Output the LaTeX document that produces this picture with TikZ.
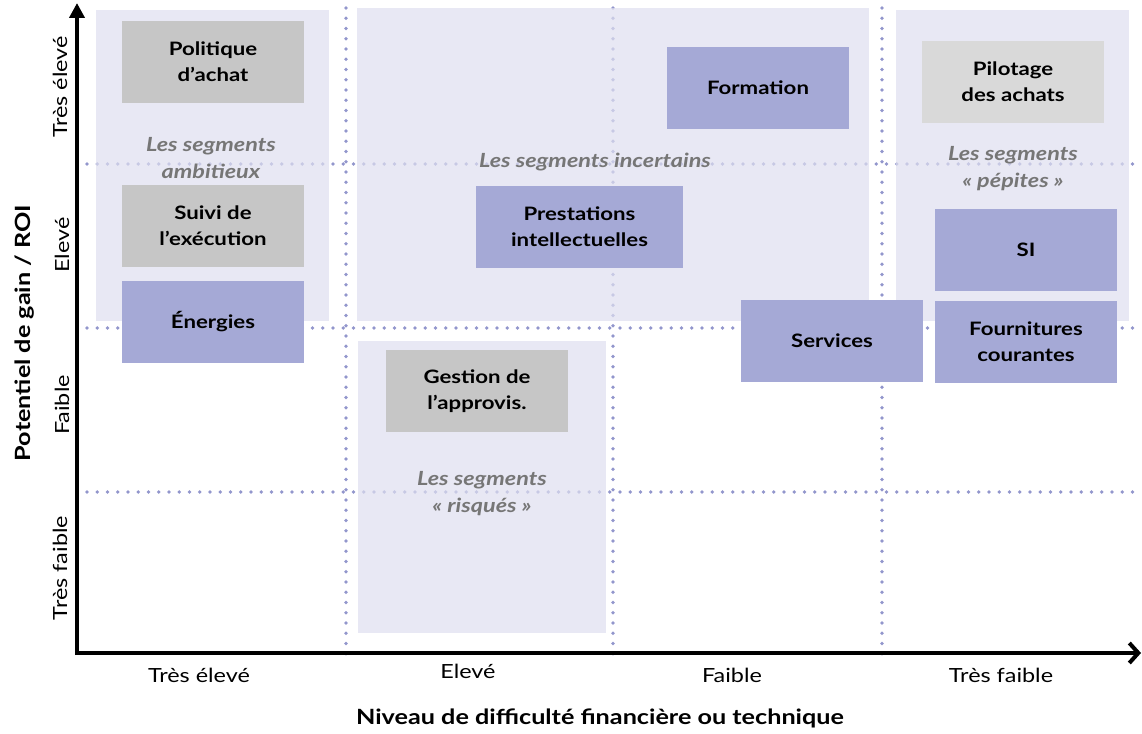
\documentclass[tikz,border=0pt]{standalone}
\usepackage{fontspec}
\setmainfont{Lato}[FakeStretch=1.2]
\usetikzlibrary{arrows.meta}
\definecolor{dotc}{HTML}{9296CC}
\definecolor{panelc}{HTML}{DEDEEF}
\definecolor{bluec}{HTML}{A5A9D6}
\definecolor{grayc}{HTML}{C6C6C6}
\definecolor{lgrayc}{HTML}{D9D9D9}
\definecolor{segc}{HTML}{767676}
\begin{document}
\begin{tikzpicture}[x=1pt,y=-1pt,
  dotline/.style={dotc, line width=3.8pt, line cap=round, dash pattern=on 0pt off 10.25pt},
  panel/.style={fill=panelc, fill opacity=0.71, draw=none},
  box/.style={draw=none, inner sep=0pt, minimum width=182pt, minimum height=82pt, align=center, font=\fontsize{18.5}{26}\selectfont\bfseries},
  bluebox/.style={box, fill=bluec},
  graybox/.style={box, fill=grayc},
  seg/.style={align=center, text=segc, inner sep=0pt, font=\fontsize{19.5}{27}\selectfont\bfseries\itshape},
  tick/.style={inner sep=0pt, font=\fontsize{19.5}{22}\selectfont},
  axtitle/.style={inner sep=0pt, font=\fontsize{21}{24}\selectfont\bfseries}]
\useasboundingbox (0,0) rectangle (1142,733);
% grid
\draw[dotline] (346,8) -- (346,658);
\draw[dotline] (613,8) -- (613,658);
\draw[dotline] (882,8) -- (882,658);
\draw[dotline] (87,164) -- (1142,164);
\draw[dotline] (87,328) -- (1142,328);
\draw[dotline] (87,492) -- (1142,492);
% panels
\fill[panel] (96,10) rectangle (329,321);
\fill[panel] (357,8) rectangle (869,321);
\fill[panel] (896,10) rectangle (1129,321);
\fill[panel] (358,341) rectangle (606,633);
% axes
\coordinate (o) at (77,655);
\coordinate (ox) at (75,653);
\coordinate (ytop) at (77,3);
\coordinate (xend) at (1141,653);
\draw[line width=4pt, -{Triangle[length=15pt,width=15pt]}] (o) -- (ytop);
\draw[line width=4pt, -{Straight Barb[length=9pt,width=20pt]}] (ox) -- (xend);
% boxes
\node[graybox] (pol) at (213,62) {Politique\\d’achat};
\node[graybox] (suivi) at (213,226) {Suivi de\\l’exécution};
\node[bluebox] (ener) at (213,322) {Énergies};
\node[bluebox] (form) at (758,88) {Formation};
\node[bluebox, minimum width=207pt] (prest) at (579.5,227) {Prestations\\intellectuelles};
\node[graybox] (gest) at (477,391) {Gestion de\\l’approvis.};
\node[box, fill=lgrayc] (pil) at (1013,82) {Pilotage\\des achats};
\node[bluebox] (si) at (1026,250) {SI};
\node[bluebox] (serv) at (832,341) {Services};
\node[bluebox] (four) at (1026,342) {Fournitures\\courantes};
% segment labels
\node[seg] (amb) at (211,158) {Les segments\\ambitieux};
\node[seg] (inc) at (595,162) {Les segments incertains};
\node[seg] (pep) at (1013,169) {Les segments\\« pépites »};
\node[seg] (ris) at (482,494) {Les segments\\« risqués »};
% ticks
\node[tick] (x1) at (199,675) {Très élevé};
\node[tick] (x2) at (468,671) {Elevé};
\node[tick] (x3) at (732,675) {Faible};
\node[tick] (x4) at (1001,675) {Très faible};
\node[tick, rotate=90] (y1) at (60,87) {Très élevé};
\node[tick, rotate=90] (y2) at (62,245) {Elevé};
\node[tick, rotate=90] (y3) at (62,405) {Faible};
\node[tick, rotate=90] (y4) at (60,568) {Très faible};
% titles
\node[axtitle, rotate=90] (ytitle) at (25,333) {Potentiel de gain / ROI};
\node[axtitle] (xtitle) at (600,718) {Niveau de difficulté financière ou technique};
\end{tikzpicture}
\end{document}
